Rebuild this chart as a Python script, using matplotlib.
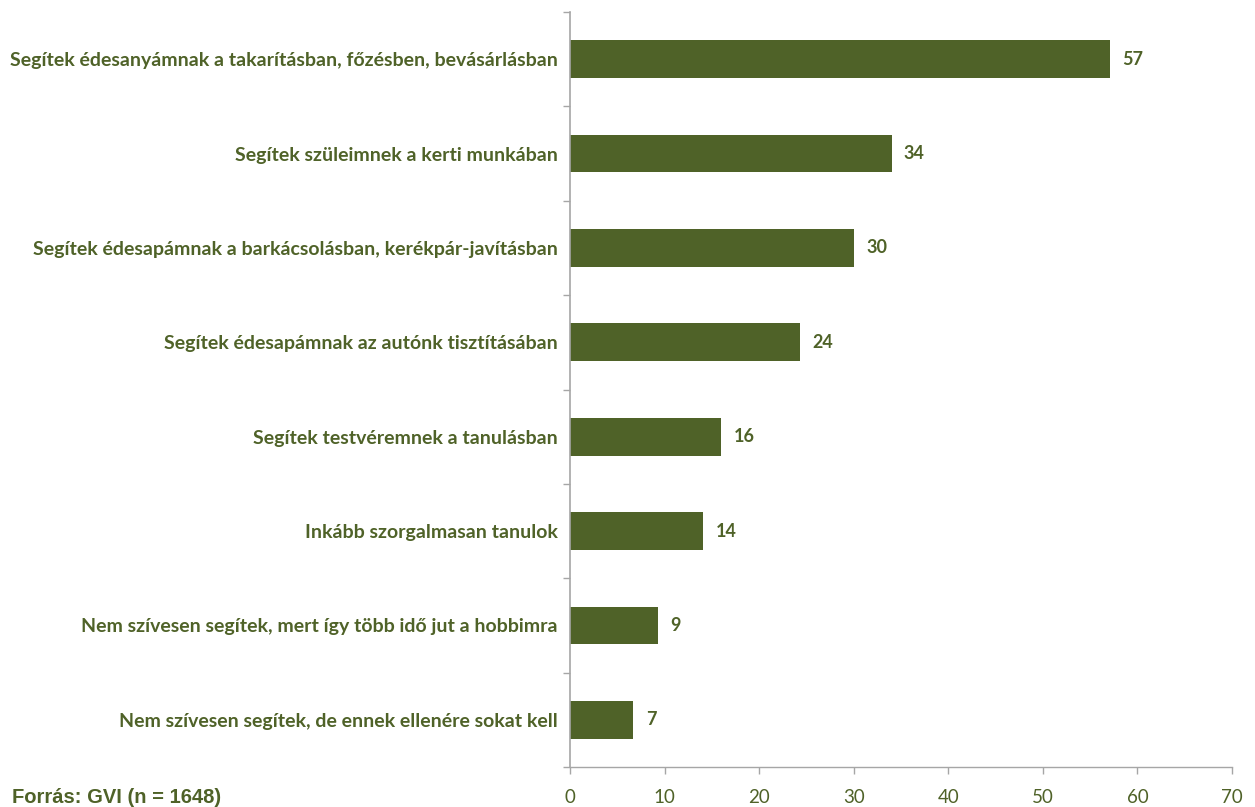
import matplotlib.pyplot as plt
import numpy as np

# categories and values (percent), top to bottom
labels = ["Segítek édesanyámnak a takarításban, főzésben, bevásárlásban",
          "Segítek szüleimnek a kerti munkában",
          "Segítek édesapámnak a barkácsolásban, kerékpár-javításban",
          "Segítek édesapámnak az autónk tisztításában",
          "Segítek testvéremnek a tanulásban",
          "Inkább szorgalmasan tanulok",
          "Nem szívesen segítek, mert így több idő jut a hobbimra",
          "Nem szívesen segítek, de ennek ellenére sokat kell"]
values = [57.1, 34.0, 30.0, 24.3, 16.0, 14.1, 9.3, 6.7]
xticks = [0, 10, 20, 30, 40, 50, 60, 70]

green = "#4f6228"
grey = "#a6a6a6"

fig = plt.figure(figsize=(12.55, 8.07), dpi=100)
ax = fig.add_axes([570/1255, 1-767/807, (1232-570)/1255, (767-12)/807])

y = np.arange(len(labels))
ax.barh(y, values, height=0.4, color=green)
ax.set_ylim(len(labels)-0.5, -0.5)
ax.set_xlim(0, 70)

# value labels
for yi, v in zip(y, values):
    ax.text(v + 1.3, yi, str(int(round(v))), va="center", ha="left",
            fontsize=13, fontweight="bold", color=green, family="Lato")

# y axis: category labels, ticks at boundaries
ax.set_yticks(y)
ax.set_yticklabels(labels, fontsize=14, fontweight="bold", color=green, family="Lato")
ax.tick_params(axis="y", which="major", length=0, pad=9)
ax.set_yticks(np.arange(-0.5, len(labels)), minor=True)
ax.tick_params(axis="y", which="minor", length=5, color=grey, width=1)

# x axis
ax.set_xticks(xticks)
ax.set_xticklabels([str(t) for t in xticks], fontsize=13.5, color=green, family="Lato")
ax.tick_params(axis="x", length=5, color=grey, width=1, direction="out", pad=11)
for t in ax.xaxis.get_major_ticks():
    t.tick1line.set_linestyle((0, (1, 1)))

for s in ["top", "right"]:
    ax.spines[s].set_visible(False)
ax.spines["left"].set_color(grey)
ax.spines["left"].set_linewidth(1.2)
ax.spines["bottom"].set_color(grey)
ax.spines["bottom"].set_linewidth(1)
ax.spines["bottom"].set_linestyle((0, (1, 1)))

fig.text(12/1255, 1-803/807, "Forrás: GVI (n = 1648)", fontsize=14.5, fontweight="bold",
         color=green, family="Liberation Sans", ha="left", va="baseline")

fig.savefig("out.png", dpi=100)
